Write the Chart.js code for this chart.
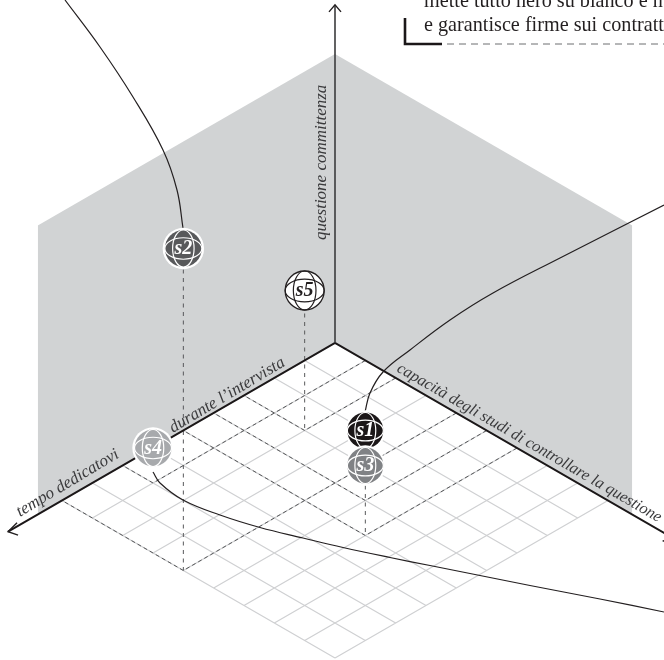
<!DOCTYPE html>
<html><head><meta charset="utf-8">
<style>html,body{margin:0;padding:0;background:#fff}canvas{display:block}</style>
<script src="https://cdn.jsdelivr.net/npm/chart.js@4"></script>
</head><body><canvas id="c" width="664" height="660"></canvas>
<script>
// ---- data ----
const seriesNames = ['s1','s3','s4','s5','s2'];
const seriesU = [5,6,1,2,4];            // capacità degli studi
const seriesV = [4,5,7,3,9];            // tempo dedicatovi
const seriesW = [2,2,1,4,9.2];          // questione committenza
const gridCells = 9;
const wallReach = 9.8;
const wallHeight = 8.26;
const axisEndRight = 11.1;
const axisEndLeft = 10.78;
const axisEndUp = 9.66;
const curveS2X = [65,100,133,163,177,183];
const curveS2Y = [0,47,97,150,190,228];
const curveS1X = [664,560,493,450,410,383,370,365];
const curveS1Y = [205,258,293,320,350,372,393,412];
const curveS4X = [153,160,183,220,260,303,343,390,430,480,530,600,664];
const curveS4Y = [472,483,500,515,527.5,538,547.5,557.5,565.5,575.5,585.5,599,612];
const axisLabels = ['questione committenza','durante l\u2019intervista','tempo dedicatovi','capacit\u00e0 degli studi di controllare la questione'];
const noteLines = ['mette tutto nero su bianco e n','e garantisce firme sui contratt'];

// ---- projection ----
const P = (u,v,w=0)=>({x:335+30.33*(u-v), y:343+17.5*(u+v)-35*w});
const GAP = {x:NaN,y:NaN};
const zipXY = (xs,ys)=>xs.map((x,i)=>({x,y:ys[i]}));

const gridPts = [];
for(let i=0;i<=gridCells;i++){
  gridPts.push(P(i,0),P(i,gridCells),GAP,P(0,i),P(gridCells,i),GAP);
}
const floorDash = [];
const dropDash = [];
const dropInset = {s1:null,s3:20,s4:null,s5:23,s2:21};
seriesNames.forEach((n,i)=>{
  const u=seriesU[i],v=seriesV[i],w=seriesW[i];
  floorDash.push(P(u,0),P(u,v),P(0,v),GAP);
  if(dropInset[n]!=null){
    const top=P(u,v,w); top.y+=dropInset[n];
    dropDash.push(top,P(u,v),GAP);
  }
});

const INK='#231f20';
const line=(data,o={})=>Object.assign({type:'scatter',data,showLine:true,pointRadius:0,borderWidth:1,borderColor:INK,fill:false,tension:0,spanGaps:false},o);
const glyphStyle={s1:{f:'#1b1718',l:'#fff',t:'#fff'},s2:{f:'#58595b',l:'#fff',t:'#fff'},s3:{f:'#808285',l:'#fff',t:'#fff'},s4:{f:'#a7a9ac',l:'#fff',t:'#fff'},s5:{f:'#fff',l:'#231f20',t:'#231f20'}};

const up=P(0,0,axisEndUp), lf=P(0,axisEndLeft), rt=P(axisEndRight,0);
const datasets=[
  line([P(0,wallReach,wallHeight),P(0,0,wallHeight)],{borderWidth:0,borderColor:'rgba(0,0,0,0)',fill:'+1',backgroundColor:'#d1d3d4',order:100}),
  line([P(0,wallReach,0),P(0,0,0)],{borderWidth:0,borderColor:'rgba(0,0,0,0)',order:99}),
  line([P(0,0,wallHeight),P(wallReach,0,wallHeight)],{borderWidth:0,borderColor:'rgba(0,0,0,0)',fill:'+1',backgroundColor:'#d1d3d4',order:98}),
  line([P(0,0,0),P(wallReach,0,0)],{borderWidth:0,borderColor:'rgba(0,0,0,0)',order:97}),
  line(gridPts,{borderColor:'#cfd0d2',borderWidth:1.2,order:90}),
  line(floorDash,{borderColor:'#58595b',borderWidth:1,borderDash:[4,3],order:80}),
  line(dropDash,{borderColor:'#58595b',borderWidth:1,borderDash:[4,4.5],order:79}),
  line([up,P(0,0,0)],{borderColor:'#3c3c3e',borderWidth:1.6,order:70}),
  line([lf,P(0,0),rt],{borderColor:'#1b1718',borderWidth:2,order:70}),
  line([{x:up.x-6,y:up.y+7},up,{x:up.x+6,y:up.y+7}],{borderWidth:1.4,order:69}),
  line([{x:lf.x+9,y:lf.y-9},lf,{x:lf.x+10,y:lf.y+3.5}],{borderWidth:1.4,order:69}),
  line([{x:rt.x-9,y:rt.y+4},rt],{borderWidth:1.4,order:69}),
  line(zipXY(curveS2X,curveS2Y),{tension:0.4,borderWidth:1.2,order:60}),
  line(zipXY(curveS1X,curveS1Y),{tension:0.4,borderWidth:1.2,order:60}),
  line(zipXY(curveS4X,curveS4Y),{tension:0.4,borderWidth:1.2,order:60}),
  line([{x:405,y:18},{x:405,y:44},{x:442,y:44}],{borderColor:'#1b1718',borderWidth:2.6,order:60}),
  line([{x:447,y:44},{x:664,y:44}],{borderColor:'#6d6e71',borderWidth:1,borderDash:[7,5],order:60}),
];
seriesNames.forEach((n,i)=>{
  datasets.push({type:'scatter',label:n,data:[P(seriesU[i],seriesV[i],seriesW[i])],showLine:false,
    pointRadius:18,pointHoverRadius:18,pointBackgroundColor:glyphStyle[n].f,pointBorderColor:'#fff',pointBorderWidth:0,order:50-i});
});

const globe={id:'globe',afterDatasetDraw(chart,args){
  const ds=chart.data.datasets[args.index];
  if(!ds.label||!glyphStyle[ds.label])return;
  const st=glyphStyle[ds.label];
  const el=args.meta.data[0];
  const {x,y}=el;
  const c=chart.ctx;
  c.save();
  const isS5=ds.label==='s5';
  const r=isS5?19.5:(ds.label==='s1'||ds.label==='s3'?18:18.5);
  if(!isS5){c.beginPath();c.arc(x,y,r+2.2,0,7);c.fillStyle='#fff';c.fill();}
  c.beginPath();c.arc(x,y,r,0,7);c.fillStyle=st.f;c.fill();
  if(isS5){c.strokeStyle=st.l;c.lineWidth=1.3;c.stroke();}
  c.strokeStyle=st.l;c.lineWidth=1.2;
  c.beginPath();c.ellipse(x,y,r*0.58,r,0,0,7);c.stroke();
  c.beginPath();c.ellipse(x,y,r,r*0.58,0,0,7);c.stroke();
  c.fillStyle=st.t;c.font='italic bold 20px "Liberation Serif"';c.textAlign='center';c.textBaseline='middle';
  c.fillText(ds.label,x,y+0.5);
  c.restore();
}};

const texts={id:'texts',afterDraw(chart){
  const c=chart.ctx,sx=chart.scales.x,sy=chart.scales.y;
  const put=(s,dx,dy,ang,font,col)=>{
    c.save();c.translate(sx.getPixelForValue(dx),sy.getPixelForValue(dy));c.rotate(ang*Math.PI/180);
    c.font=font;c.fillStyle=col;c.textAlign='left';c.textBaseline='alphabetic';c.fillText(s,0,0);c.restore();
  };
  const it='italic 17px "Liberation Serif"',col='#3a3a3c';
  put(axisLabels[0],326,240,-90,it,col);
  put(axisLabels[1],173,433,-31,it,col);
  put(axisLabels[2],20,517,-31,it,col);
  put(axisLabels[3],396,371,30,'italic 16.2px "Liberation Serif"',col);
  const nf='20.2px "Liberation Serif"';
  put(noteLines[0],424,7,0,nf,'#231f20');
  put(noteLines[1],424,31,0,nf,'#231f20');
}};

new Chart(document.getElementById('c'),{
  type:'scatter',
  data:{datasets},
  plugins:[globe,texts],
  options:{responsive:false,animation:false,events:[],
    layout:{padding:0,autoPadding:false},
    plugins:{legend:{display:false},tooltip:{enabled:false}},
    scales:{x:{type:'linear',min:0,max:664,display:false},y:{type:'linear',min:0,max:660,reverse:true,display:false}}
  }
});
</script></body></html>
